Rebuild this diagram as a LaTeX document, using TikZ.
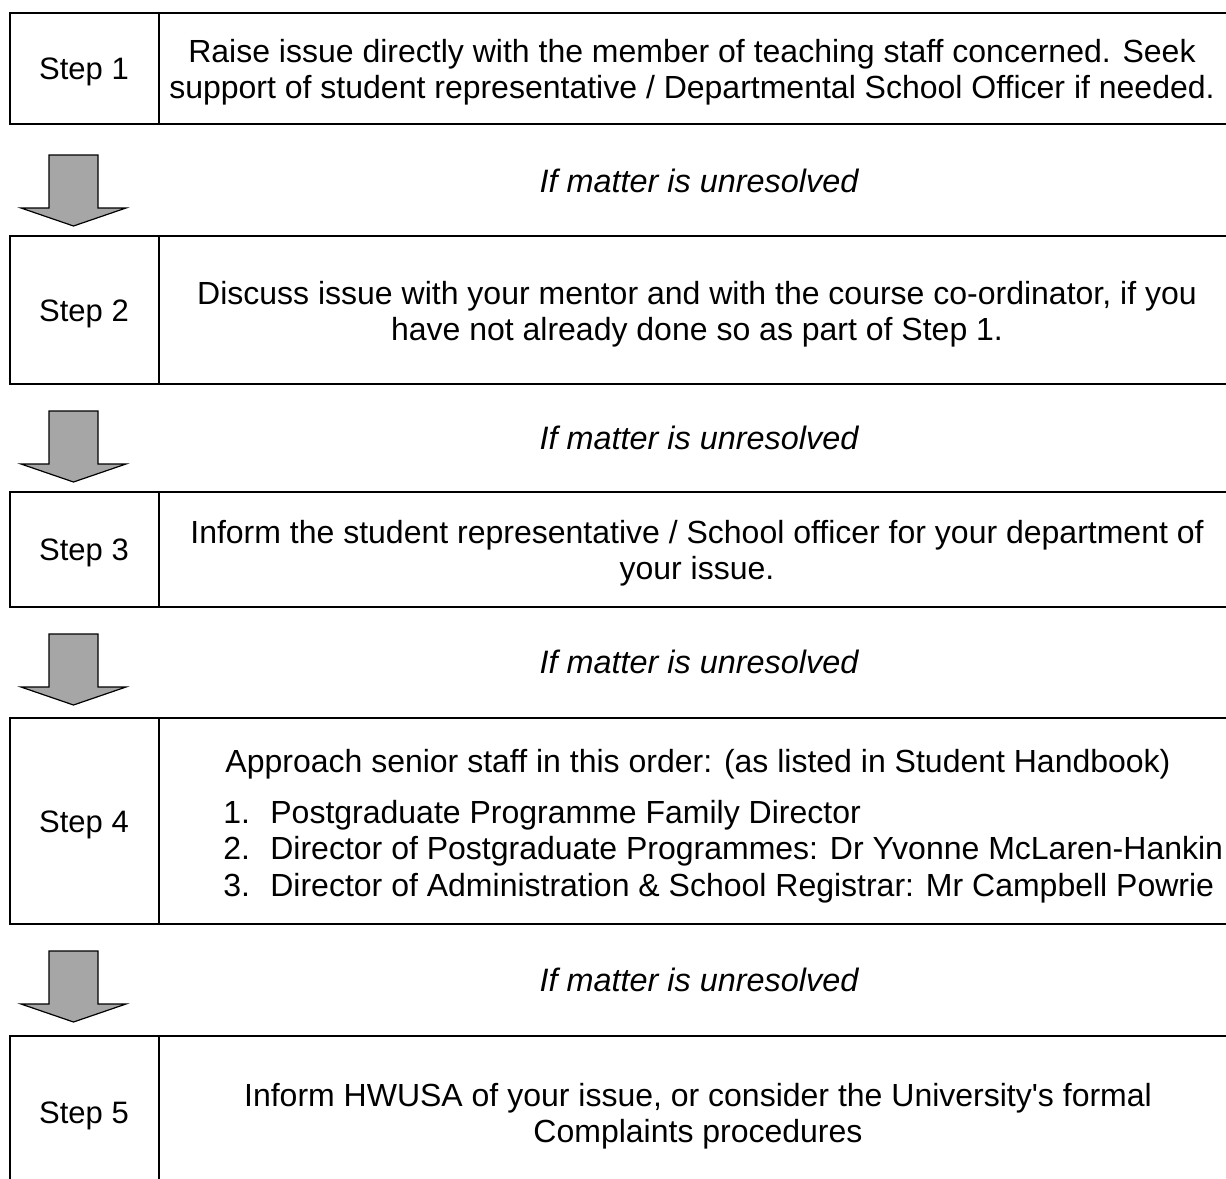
\documentclass[tikz,border=0pt]{standalone}
\usepackage{fontspec}
\setmainfont{Liberation Sans}
\definecolor{arrowfill}{RGB}{166,166,166}
\tikzset{
  cell/.style={line width=1pt},
  txt/.style={inner sep=0pt,align=center,font=\fontsize{16}{18}\selectfont},
  steplabel/.style={txt,font=\fontsize{15.5}{18}\selectfont},
  note/.style={txt,font=\fontsize{16.2}{18}\selectfont\itshape},
  item/.style={txt,anchor=west,text height=11.5pt,text depth=3pt},
  downarrow/.style={draw=black,fill=arrowfill,line width=0.6pt,line join=miter}
}
\newcommand{\num}[1]{\makebox[23.5pt][l]{#1}}

\begin{document}
\begin{tikzpicture}[x=0.5pt,y=-0.5pt]
\clip (0,0) rectangle (1226,1178);
% the five rows
\coordinate(A1)at(10,13);\coordinate(B1)at(1240,124);
\coordinate(A2)at(10,236);\coordinate(B2)at(1240,384);
\coordinate(A3)at(10,492);\coordinate(B3)at(1240,607);
\coordinate(A4)at(10,718);\coordinate(B4)at(1240,924);
\coordinate(A5)at(10,1036);\coordinate(B5)at(1240,1192);
\draw[cell] (A1)rectangle(B1) (A2)rectangle(B2) (A3)rectangle(B3) (A4)rectangle(B4) (A5)rectangle(B5);
\draw[cell] (159,13)--(159,124) (159,236)--(159,384) (159,492)--(159,607)
  (159,718)--(159,924) (159,1036)--(159,1192);
% block arrows between rows
\foreach \s in {155,411,634,951}
  \draw[downarrow] (49,\s)--(98,\s)--(98,\s+53)--(126,\s+53)--(73.5,\s+71)--(21,\s+53)--(49,\s+53)--cycle;
% step labels
\node[steplabel](s1)at(84,72){Step 1};
\node[steplabel](s2)at(84,314){Step 2};
\node[steplabel](s3)at(84,553){Step 3};
\node[steplabel](s4)at(84,825){Step 4};
\node[steplabel](s5)at(84,1116){Step 5};
% row texts
\node[txt](t1)at(692,72){Raise issue directly with the member of teaching staff concerned. Seek\\support of student representative / Departmental School Officer if needed.};
\node[txt](t2)at(697,314){Discuss issue with your mentor and with the course co-ordinator, if you\\have not already done so as part of Step 1.};
\node[txt](t3)at(697,553){Inform the student representative / School officer for your department of\\your issue.};
\node[txt](t4)at(698,764){Approach senior staff in this order: (as listed in Student Handbook)};
\node[item](i1)at(223,815){\num{1.}Postgraduate Programme Family Director};
\node[item](i2)at(223,851){\num{2.}Director of Postgraduate Programmes: Dr Yvonne McLaren-Hankin};
\node[item](i3)at(223,888){\num{3.}Director of Administration \& School Registrar: Mr Campbell Powrie};
\node[txt](t5)at(698,1116){Inform HWUSA of your issue, or consider the University\textquotesingle s formal\\Complaints procedures};
% notes
\node[note](n1)at(699,181){If matter is unresolved};
\node[note](n2)at(699,438){If matter is unresolved};
\node[note](n3)at(699,662){If matter is unresolved};
\node[note](n4)at(699,980){If matter is unresolved};
\end{tikzpicture}
\end{document}
